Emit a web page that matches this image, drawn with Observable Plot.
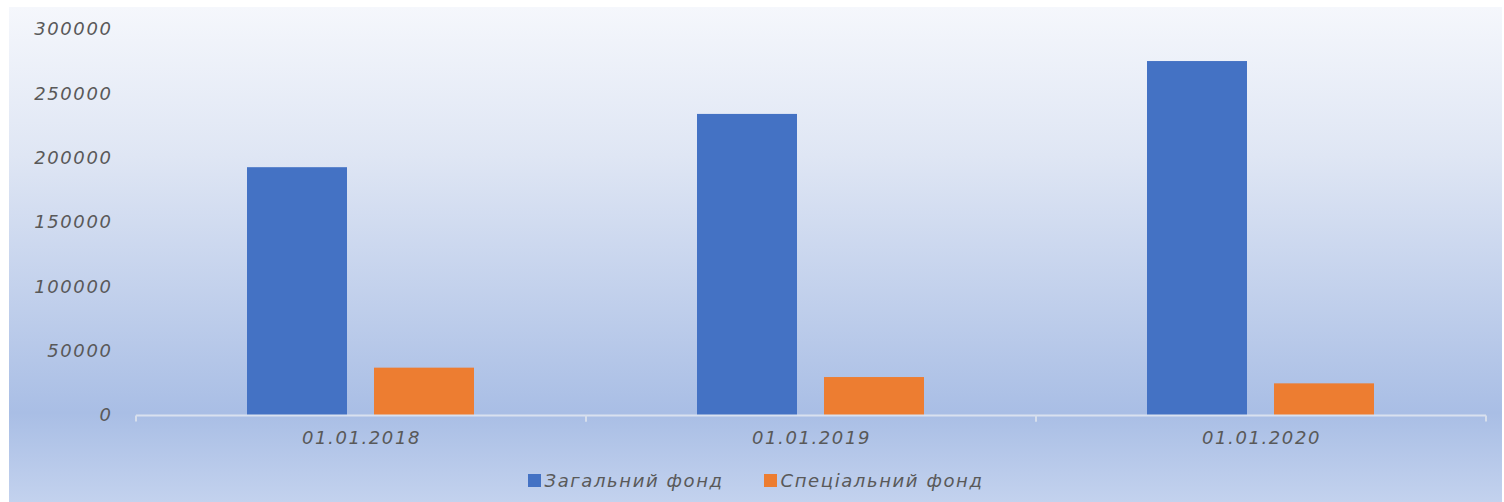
<!DOCTYPE html>
<html>
<head>
<meta charset="utf-8">
<script src="https://cdn.jsdelivr.net/npm/d3@7"></script>
<script src="https://cdn.jsdelivr.net/npm/@observablehq/plot@0.6"></script>
<style>
  html, body { margin: 0; padding: 0; background: #ffffff; }
  #frame {
    position: absolute; left: 9px; top: 7px; width: 1493px; height: 495px;
    background: linear-gradient(to bottom, #f5f7fc 0%, #dfe6f4 30%, #a9bee5 82%, #c3d2ee 100%);
    overflow: hidden;
  }
  #chart svg text { letter-spacing: 1.6px; }
  #legend {
    position: absolute; left: 0; top: 458px; width: 1493px; height: 30px;
    display: flex; justify-content: center; align-items: center;
    font-family: "DejaVu Sans", sans-serif; font-style: italic; font-size: 18px;
    color: #595959; letter-spacing: 1.6px;
  }
  .item { display: flex; align-items: center; margin: 0 20px; }
  .sw { width: 13px; height: 13px; margin-right: 4px; }
</style>
</head>
<body>
<div id="frame">
  <div id="chart"></div>
  <div id="legend"></div>
</div>
<script>
const dates = ["01.01.2018", "01.01.2019", "01.01.2020"];
const seriesNames = ["Загальний фонд", "Спеціальний фонд"];
const generalFund = [192600, 234000, 275100];
const specialFund = [36800, 29500, 24600];
const yTicks = [0, 50000, 100000, 150000, 200000, 250000, 300000];
const colors = ["#4472c4", "#ed7d31"];

const rows = [];
dates.forEach((d, i) => {
  rows.push({date: d, series: seriesNames[0], value: generalFund[i]});
  rows.push({date: d, series: seriesNames[1], value: specialFund[i]});
});

function boundaryTicks(index, scales, values, dimensions, context, next) {
  const g = next ? next(index, scales, values, dimensions, context) : d3.create("svg:g").node();
  const [x0, x1] = scales.x.range();
  const y0 = scales.y(0);
  const sel = d3.select(g);
  for (const x of [x0, x1]) {
    sel.append("line")
      .attr("x1", x).attr("x2", x)
      .attr("y1", y0).attr("y2", y0 + 6)
      .attr("stroke", "#d6deec").attr("stroke-width", 2);
  }
  return g;
}

const chart = Plot.plot({
  width: 1493,
  height: 450,
  marginTop: 22,
  marginBottom: 42,
  marginLeft: 126,
  marginRight: 15,
  style: {
    fontFamily: "DejaVu Sans, sans-serif",
    fontStyle: "italic",
    fontSize: "18px",
    color: "#595959",
    background: "transparent",
    overflow: "visible"
  },
  fx: {domain: dates, padding: 0, label: null, tickSize: 0, tickPadding: 16},
  x: {domain: seriesNames, paddingInner: 0.21, paddingOuter: 0.87, axis: null},
  y: {domain: [0, 300000], label: null},
  color: {domain: seriesNames, range: colors},
  marks: [
    Plot.axisY({ticks: yTicks, tickSize: 0, tickPadding: 24, tickFormat: d => String(d), label: null, fontSize: 18}),
    Plot.barY(rows, {fx: "date", x: "series", y: "value", fill: "series"}),
    Plot.ruleY([0], {stroke: "#d9e1ef", strokeWidth: 2, render: boundaryTicks})
  ]
});
document.getElementById("chart").appendChild(chart);

const legend = document.getElementById("legend");
seriesNames.forEach((name, i) => {
  const item = document.createElement("div");
  item.className = "item";
  const sw = document.createElement("div");
  sw.className = "sw";
  sw.style.background = colors[i];
  const label = document.createElement("span");
  label.textContent = name;
  item.appendChild(sw);
  item.appendChild(label);
  legend.appendChild(item);
});
</script>
</body>
</html>
